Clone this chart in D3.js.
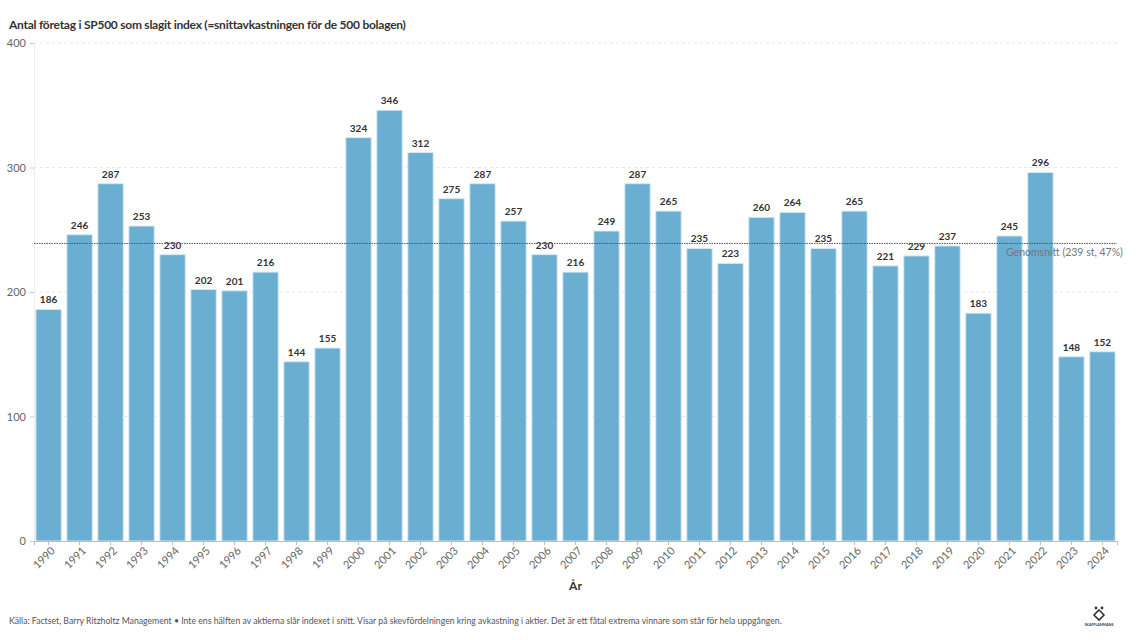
<!DOCTYPE html>
<html>
<head>
<meta charset="utf-8">
<script src="https://cdn.jsdelivr.net/npm/d3@7"></script>
<style>
  body { margin: 0; background: #fff; font-family: Lato, "Open Sans", sans-serif; }
</style>
</head>
<body>
<svg id="chart" width="1138" height="640"></svg>
<script>
const years = [1990,1991,1992,1993,1994,1995,1996,1997,1998,1999,2000,2001,2002,2003,2004,2005,2006,2007,2008,2009,2010,2011,2012,2013,2014,2015,2016,2017,2018,2019,2020,2021,2022,2023,2024];
const counts = [186,246,287,253,230,202,201,216,144,155,324,346,312,275,287,257,230,216,249,287,265,235,223,260,264,235,265,221,229,237,183,245,296,148,152];
const yTicks = [0, 100, 200, 300, 400];
const average = 239;
const averageLabel = 'Genomsnitt (239 st, 47%)';

const svg = d3.select('#chart');
const plotLeft = 34, plotRight = 1117, plotTop = 43, plotBottom = 541;

const x = d3.scaleBand()
    .domain(years)
    .range([plotLeft, plotRight])
    .paddingInner(0.18)
    .paddingOuter(0.06);
const y = d3.scaleLinear().domain([0, 400]).range([plotBottom, plotTop]);

// title
svg.append('text')
    .attr('x', 9).attr('y', 29)
    .attr('font-size', 12).attr('font-weight', 'bold').attr('fill', '#333')
    .attr('letter-spacing', -0.25)
    .text('Antal företag i SP500 som slagit index (=snittavkastningen för de 500 bolagen)');

// grid
svg.append('g').selectAll('line')
    .data(yTicks.filter(d => d > 0))
    .join('line')
    .attr('x1', plotLeft).attr('x2', plotRight)
    .attr('y1', d => y(d)).attr('y2', d => y(d))
    .attr('stroke', '#e6e6e6').attr('stroke-dasharray', '3,3');

// y axis
const yAxis = svg.append('g')
    .attr('transform', `translate(${plotLeft},0)`)
    .call(d3.axisLeft(y).tickValues(yTicks).tickSize(4).tickPadding(4));
yAxis.select('.domain').attr('stroke', '#eee');
yAxis.selectAll('.tick line').attr('stroke', '#ccc');
yAxis.selectAll('text').attr('font-size', 11).attr('fill', '#666').attr('font-family', 'Lato, sans-serif');

// bars
svg.append('g').selectAll('rect')
    .data(years)
    .join('rect')
    .attr('x', d => x(d))
    .attr('width', x.bandwidth())
    .attr('y', (d, i) => y(counts[i]))
    .attr('height', (d, i) => plotBottom - y(counts[i]))
    .attr('fill', '#6aaed2')
    .attr('stroke', '#d8eaf4').attr('stroke-width', 1);

// value labels
svg.append('g').selectAll('text')
    .data(years)
    .join('text')
    .attr('x', d => x(d) + x.bandwidth() / 2)
    .attr('y', (d, i) => y(counts[i]) - 6)
    .attr('text-anchor', 'middle')
    .attr('font-size', 10).attr('font-weight', 'bold').attr('fill', '#333')
    .text((d, i) => counts[i]);

// x axis
const xAxis = svg.append('g')
    .attr('transform', `translate(0,${plotBottom})`)
    .call(d3.axisBottom(x).tickSize(4).tickPadding(3));
xAxis.select('.domain').attr('stroke', '#bbb');
xAxis.selectAll('.tick line').attr('stroke', '#bbb');
xAxis.selectAll('text')
    .attr('font-size', 11).attr('fill', '#666').attr('font-family', 'Lato, sans-serif')
    .attr('text-anchor', 'end')
    .attr('dx', '-0.2em').attr('dy', '0.5em')
    .attr('transform', 'rotate(-45)');

// average line
svg.append('line')
    .attr('x1', plotLeft).attr('x2', plotRight)
    .attr('y1', y(average)).attr('y2', y(average))
    .attr('stroke', '#555').attr('stroke-width', 1).attr('stroke-dasharray', '1.5,1');
svg.append('text')
    .attr('x', 1006).attr('y', y(average) + 13)
    .attr('font-size', 10.5).attr('fill', '#777')
    .text(averageLabel);

// axis title
svg.append('text')
    .attr('x', (plotLeft + plotRight) / 2).attr('y', 590)
    .attr('text-anchor', 'middle')
    .attr('font-size', 12).attr('font-weight', 'bold').attr('fill', '#333')
    .text('År');

// footer
svg.append('text')
    .attr('x', 9).attr('y', 624)
    .attr('font-size', 8.7).attr('fill', '#555')
    .text('Källa: Factset, Barry Ritzholtz Management • Inte ens hälften av aktierna slår indexet i snitt. Visar på skevfördelningen kring avkastning i aktier. Det är ett fåtal extrema vinnare som står för hela uppgången.');

// small logo
const logo = svg.append('g').attr('transform', 'translate(1099,616)');
logo.append('path').attr('d', 'M0,-6 L5,-1 L0,4 L-5,-1 Z').attr('fill', 'none').attr('stroke', '#333').attr('stroke-width', 1.6);
logo.append('circle').attr('cx', -3).attr('cy', -8).attr('r', 1.4).attr('fill', '#333');
logo.append('circle').attr('cx', 3).attr('cy', -8).attr('r', 1.4).attr('fill', '#333');
logo.append('text').attr('y', 10).attr('text-anchor', 'middle').attr('font-size', 3.5).attr('fill', '#333').attr('font-weight', 'bold').text('SKAFFLAMMANS');
</script>
</body>
</html>
